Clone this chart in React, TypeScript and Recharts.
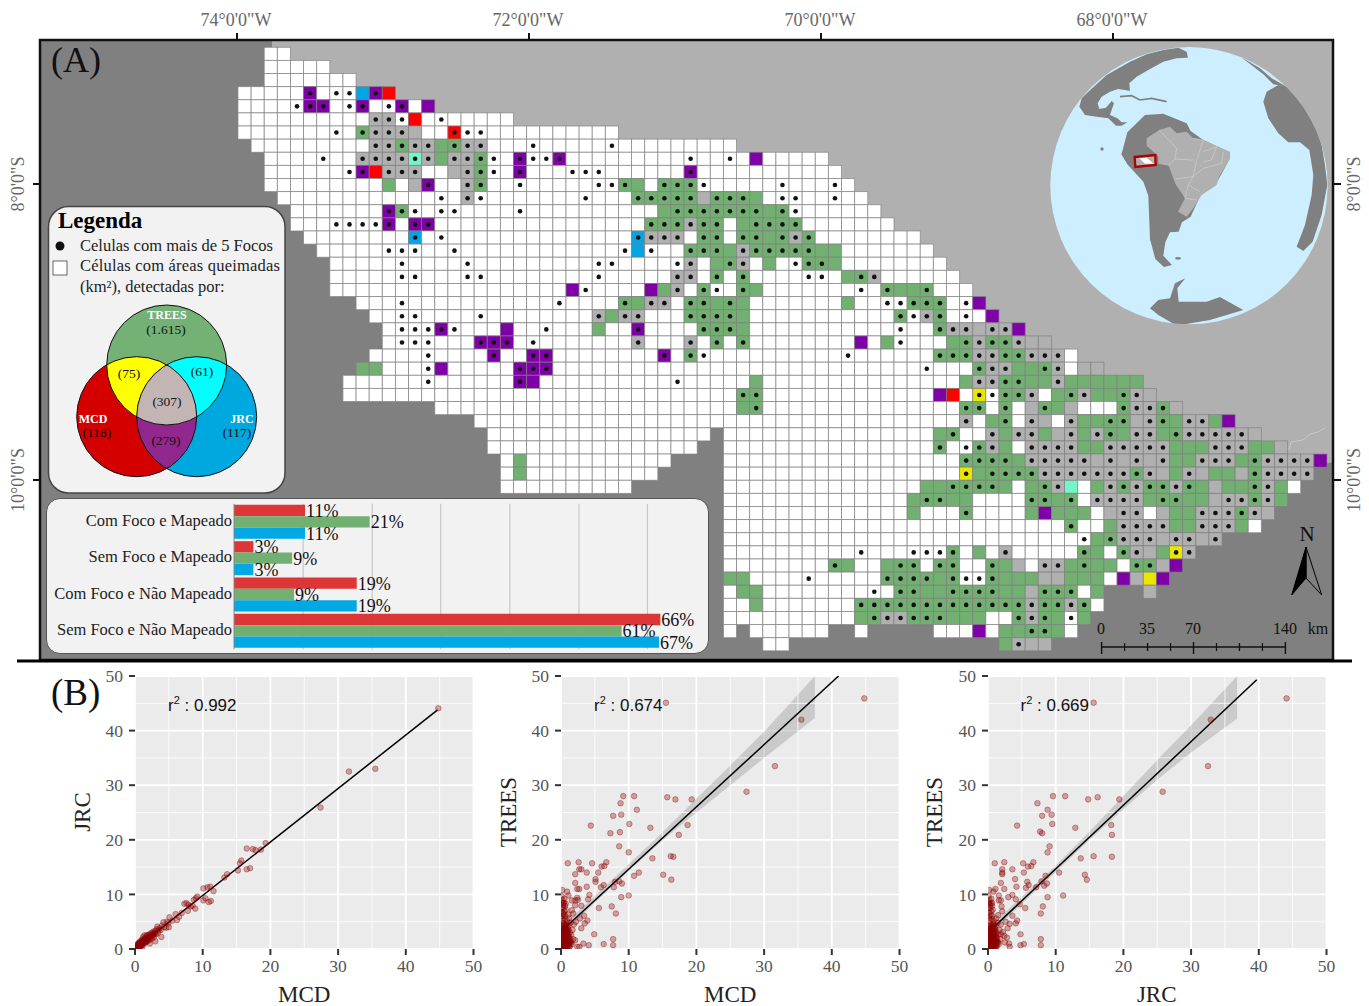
import React from "react";
import {
  Bar, BarChart, CartesianGrid, LabelList, XAxis, YAxis, Scatter, ScatterChart,
  ComposedChart, Line, Area, ReferenceLine,
} from "recharts";

const SERIF = "'Liberation Serif', serif";

// map grid: [first column, run-length cells]
// w white g TREES a all-grey p MCD+JRC r MCD b JRC y MCD+TREES m JRC+TREES, uppercase = more than 5 fire spots, "." no cell
const gridRows: [number, string][] = [
  [2, "w2"],
  [2, "w5"],
  [2, "w7"],
  [0, "w5 P w W2 b P r"],
  [0, "w4 W P2 w W P w W P w p"],
  [0, "w10 A2 W r w W w5"],
  [0, "w7 W w G A3 a w2 R W2 w10"],
  [1, "w9 A2 G A2 g G A2 w3 W w5 W w9"],
  [2, "w4 W w2 A4 M A g A2 G W w P W2 P w9 W w2 W w p w5"],
  [2, "w6 W P r A3 w2 a A G W w P w3 W3 w6 P w11"],
  [2, "w9 g w a P w2 A G w2 W w5 W2 G g w G3 W w5 W w3 W w"],
  [3, "w12 W w A W w7 W w3 G5 a G3 g w W2 w2 W w2"],
  [4, "w7 P G W w W2 w4 W w10 g G7 g G W w6"],
  [4, "w3 W4 P w P2 w16 G3 A G2 w g G4 w7"],
  [5, "w8 B w W w14 B A3 w G2 w G2 g G A G w8"],
  [6, "w5 W3 w2 W w12 W b W w2 G3 g A G5 g2 w7"],
  [7, "w5 W w4 W w9 W2 w4 W A w g G A w g w W G2 g w8"],
  [7, "w5 W2 w3 W2 w8 W w5 A2 w G w G w4 W2 w g G A w6"],
  [7, "w18 p W w4 p g A w G W w G g w7 W w G g2 G w3"],
  [9, "w3 W w11 W w4 G g A2 w G2 g G g w7 g w2 W2 G3 w W p"],
  [10, "w2 W2 w4 W w8 A g A2 w3 G4 g w11 G W A G w W w p"],
  [11, "w W3 P W w3 p w2 W w3 g w2 P w4 G3 g w11 W w2 G A2 a A2 p"],
  [11, "w W3 w3 P3 w W w7 A w3 A w G w G w8 p w g W w3 g G A G2 A a2"],
  [10, "w4 W w4 P w2 P2 w8 P w G W w10 W w6 G3 A2 G2 A3 w"],
  [9, "g2 w3 W p w5 P3 w28 W w3 G A2 g2 G A w a2"],
  [8, "w6 W w6 P p w10 W w5 g w15 g A2 G2 g2 A g6"],
  [8, "w30 G2 w13 p r w Y W G2 A w g G A g2 G A a"],
  [15, "w23 g G w15 G2 w G w a G g a w3 G A2 G a"],
  [18, "w37 A w g G w A a w A g2 G2 a A G g A2 g p"],
  [19, "w17 . w16 g G w2 A g A2 g a A g A G g A2 g G A5 a"],
  [19, "w16 .2 w16 G w W G A g w A4 g2 A5 g3 A3 g2 a"],
  [20, "w g w11 .4 w18 G4 g A5 a A a A a A g2 A3 g G A4 p"],
  [20, "w g w10 .5 w18 Y g G4 A7 G A a g A a g2 a G A4"],
  [20, "w10 .7 w15 g2 G4 g w g G A m w g A G A G2 A G g a g2 G A g w"],
  [37, "w14 g G2 g2 w4 G2 g G w A4 g G2 g2 a A2 G A g"],
  [37, "w14 g w3 G w4 g p g3 w a A2 w a g2 A3 G A a"],
  [37, "w26 G w2 g A4 g2 A3 g w"],
  [37, "w27 W g G A3 a A2 a A"],
  [37, "w10 W w3 W3 G w g w A w5 G g w G A a g Y A"],
  [37, "w8 G g w2 g G2 w G2 w2 G g a w A2 g G g2 w G2 a p"],
  [37, "g2 w4 W w5 G4 g G W2 G g3 a2 g3 w p a y p"],
  [37, "w g2 w8 W w G2 g2 G4 g2 a G3 w g .3 a"],
  [37, "w2 g w7 G13 A G2 A G w"],
  [37, "w10 g G A2 G3 g3 w2 G A G g W g"],
  [37, "w . w6 .2 w .5 w3 p w g2 G2 g w"],
  [40, "w2 .16 g A a2"],
];

const cellColors: Record<string, string> = {
  w: "#ffffff", g: "#72b072", a: "#b0b0b0", p: "#7f00a6", r: "#ff0000",
  b: "#00a6e6", y: "#ebe600", m: "#73f5c8",
};

const barCategories = ["Com Foco e Mapeado", "Sem Foco e Mapeado", "Com Foco e Não Mapeado", "Sem Foco e Não Mapeado"];
const barMcd = [11, 3, 19, 66];
const barTrees = [21, 9, 9.3, 60];
const barJrc = [11, 3, 19, 65.8];
const labelMcd = ["11%", "3%", "19%", "66%"];
const labelTrees = ["21%", "9%", "9%", "61%"];
const labelJrc = ["11%", "3%", "19%", "67%"];
const barGridTicks = [10.7, 21.4, 32, 42.7, 53.4, 64];

const lonLabels = [`74°0'0"W`, `72°0'0"W`, `70°0'0"W`, `68°0'0"W`];
const lonPositions = [237, 529, 821, 1113];
const latLabels = [`8°0'0"S`, `10°0'0"S`];
const latPositions = [184, 480];

const majorTicks = [0, 10, 20, 30, 40, 50];
const minorTicks = [5, 15, 25, 35, 45];

const mcdJrc: number[][] = [
  [44.8, 44.1], [31.6, 32.5], [35.5, 33], [27.4, 25.9], [19.3, 19.4], [16.5, 18.4], [17.4, 18.3], [17.8, 18.1],
  [18.6, 18.2], [15.7, 16.2], [15.5, 15.7], [15.2, 14.4], [16.5, 14.6], [17, 14.8], [13.6, 13.7], [13.2, 13.1],
  [10.1, 11.1], [10.7, 11.3], [11.1, 11.4], [11.6, 10.6], [9.2, 9.6], [8.7, 9], [9, 9.3], [10.1, 8.9], [10.4, 9.3],
  [10.9, 8.6], [11.2, 8.8], [7.3, 8.3], [7.6, 8.4], [7.9, 8.1], [8.2, 7.8], [7.8, 7], [8.9, 7.4], [8.5, 7.9], [6, 6.4],
  [5.1, 5.8], [6.2, 5.3], [6.5, 5.9], [6.9, 6.6], [5, 4], [4.2, 4.9], [4.7, 5], [3.9, 2.2], [3, 1.4], [3.5, 3.4],
  [0.3, 0.4], [0.4, 0.2], [0.5, 0.7], [0.6, 0.4], [0.7, 0.9], [0.8, 0.5], [0.9, 1.1], [1, 0.7], [1.1, 1.5], [1.2, 0.9],
  [1.2, 2.2], [1.3, 1.3], [1.4, 2.5], [1.5, 1.1], [1.6, 1.7], [1.7, 2.4], [1.8, 1.4], [1.9, 2], [2, 2.6], [2.1, 1.6],
  [2.2, 1], [2.3, 2.3], [2.4, 2.9], [2.5, 1.9], [2.6, 2.5], [2.7, 3.2], [2.8, 2.2], [3, 3.3], [3.1, 2.7], [3.2, 3.6],
  [3.4, 3], [3.6, 3.8], [3.8, 3.5], [4, 4.3], [4.3, 4], [0.2, 0.1], [0.1, 0.3], [0.5, 0.2], [0.7, 0.3], [0.9, 0.6],
  [1, 1.3], [1.1, 0.4], [0.4, 0.9], [0.6, 1.2], [0.8, 1.4], [1.3, 1.8], [1.5, 2], [1.8, 2.5], [2.2, 2.7], [2.9, 2.8],
  [4.6, 3.9], [5.5, 5.2], [3.3, 4.1], [4.9, 4.7], [0.2, 0.3], [0.3, 0.2], [0.4, 0.5], [0.5, 0.4], [0.6, 0.7], [0.7, 0.6],
  [0.8, 0.9], [0.9, 0.8], [1, 1], [1.1, 1.1], [1.2, 1.3], [1.3, 1.1], [1.4, 1.5], [1.5, 1.4], [1.6, 1.3], [1.7, 1.8],
  [1.8, 1.9], [1.9, 1.6], [2, 2.1], [2.1, 2.2], [2.3, 2], [2.4, 2.4], [2.6, 2.8], [2.7, 2.6], [2.9, 3], [0.5, 1],
  [0.3, 0.7], [0.7, 1.2], [1, 1.7], [1.2, 1.6],
];

const sharedDense: number[][] = [
  [0.1, 0.3], [0.2, 1], [0.3, 0.2], [0.4, 1.6], [0.5, 0.6], [0.6, 2.3], [0.7, 1.2], [0.8, 0.3], [0.9, 1.9], [1, 0.8],
  [0.2, 2.7], [0.4, 3.2], [0.6, 3], [0.8, 2.6], [1, 3.4], [1.2, 2.2], [1.3, 0.5], [1.4, 1.4], [0.1, 3.8], [0.3, 4.3],
  [0.5, 3.9], [0.7, 4.4], [0.9, 3.9], [1.1, 4.2], [1.3, 3], [1.5, 2.6], [1.6, 0.9], [1.8, 1.8], [0.2, 1.8], [0.5, 1.3],
  [0.8, 1.1], [1.1, 1.7], [0.3, 5.2], [0.6, 5.5], [0.9, 5.1], [0.2, 6], [0.5, 6.9], [0.1, 7.4], [0.7, 7.2], [0.3, 8],
  [0.6, 7.9], [0.2, 9], [0.1, 9.7], [0.5, 9.2], [1.2, 5.6], [1.4, 4.8], [1.7, 3.5], [1.9, 4.5], [0.4, 0.7], [0.7, 0.1],
  [1.2, 1], [0.1, 2], [0.3, 2.4], [0.6, 0.9], [0.1, 0.1], [0.2, 0.4], [0.3, 0.7], [0.4, 0.2], [0.5, 0.1], [0.6, 0.3],
  [0.7, 0.6], [0.8, 0.8], [0.9, 0.4], [1, 0.2], [1.1, 0.7], [1.2, 0.3], [1.3, 1.2], [0.1, 1.2], [0.2, 1.5], [0.3, 1.1],
  [0.4, 1.3], [0.5, 1.9], [0.6, 1.5], [0.7, 1.8], [0.8, 1.6], [0.9, 1.4], [1, 1.2], [1.1, 1.1], [1.2, 1.5], [0.1, 2.5],
  [0.2, 2.2], [0.3, 2.9], [0.4, 2.5], [0.5, 2.2], [0.6, 2.7], [0.7, 2.1], [0.8, 2.3], [0.9, 2.8], [1, 2.4], [1.1, 2.7],
  [0.1, 3.2], [0.2, 3.5], [0.3, 3.3], [0.4, 3.7], [0.5, 3.4], [0.6, 3.6], [0.7, 3.2], [0.8, 3.6], [0.9, 3.2], [1.1, 3.6],
  [0.2, 4.1], [0.4, 4.5], [0.6, 4.2], [0.8, 4.6], [0.2, 5.6], [0.4, 6.3], [0.6, 6.1], [0.1, 6.8], [0.3, 7.5], [0.1, 8.5],
  [0.4, 8.4], [0.2, 0.6], [0.5, 0.9], [0.9, 1], [1.3, 1.9], [1.5, 1.2],
];

const mcdTrees: number[][] = [
  [44.8, 45.9], [15.5, 45.1], [35.5, 42], [31.6, 33.5], [27.4, 28.8], [9.2, 28], [10.8, 28], [15.7, 27.8], [16.9, 27.4],
  [19.3, 27.4], [8.8, 26.7], [11.2, 25.5], [8.9, 24.6], [7.7, 24.4], [10.1, 22.9], [4.4, 22.6], [18.7, 22.7], [13.2, 22.2],
  [17.4, 20.9], [7.3, 21.2], [8.7, 21.4], [8.6, 18.8], [10, 17.7], [13.5, 16.6], [16.2, 17], [16.6, 16.9], [1, 15.7],
  [2.6, 15.9], [4.6, 15.7], [6.7, 15.9], [6, 15.1], [6.4, 15.2], [2.7, 14.6], [3, 14.6], [3.8, 14], [5.5, 14], [2.1, 13.7],
  [11.5, 14], [10.8, 13.4], [15.1, 13.6], [16.3, 12.7], [5.1, 12.8], [5.1, 12.3], [2.1, 12.1], [8, 12.3], [8.6, 12.4],
  [9, 12], [6.3, 11.7], [5.9, 11.3], [7.8, 11.3], [3.8, 11.4], [2.4, 11], [2.7, 11], [0.2, 10.8], [0.9, 10.5], [4.2, 9.9],
  [10, 9.8], [8.9, 9.5], [1.1, 9.8], [2.4, 9.4], [4, 9.1], [1.6, 8.9], [2.1, 8.9], [2.5, 9], [0.4, 8.5], [0.7, 8.3],
  [2.1, 8], [7.5, 7.8], [5.6, 7.5], [8.1, 6.5], [3, 7.9], [1.6, 7.1], [0.3, 6.5], [1.1, 6.3], [1.8, 6.5], [3.4, 6.1],
  [2.8, 5.6], [3.9, 5.2], [3.5, 4.7], [2.2, 5], [0.4, 4.7], [3, 3.8], [4.9, 2.7], [2.1, 1.6], [7.7, 1.8], [6.3, 0.9],
  [7.7, 0.7], [4.1, 0.7], [3.3, 1], [2.7, 0.4], [2.4, 0.4],
  ...sharedDense,
];

const jrcTrees: number[][] = [
  [44.1, 45.9], [15.6, 45.1], [32.9, 42], [32.5, 33.5], [25.8, 28.8], [9.6, 28], [11.4, 28], [14.8, 27.4], [16.2, 27.8],
  [19.4, 27.4], [7.3, 26.7], [8.8, 25.5], [9.4, 24.6], [8, 24.4], [9.5, 22.9], [4.3, 22.6], [18.2, 22.7], [12.9, 22.2],
  [18.3, 20.9], [7.7, 21.5], [8, 21.2], [9.1, 18.8], [8.8, 17.7], [13.7, 16.6], [15.6, 17], [18.3, 16.9], [1, 15.7],
  [2.4, 15.9], [5.2, 15.7], [6.7, 15.9], [5.9, 15.1], [6.4, 15.2], [2.1, 14.6], [3.6, 14.6], [5.3, 14], [2.1, 14], [2.1, 13.7],
  [10.5, 14], [14.3, 13.6], [14.6, 12.7], [8.5, 13.4], [4, 12.8], [5.8, 12.3], [1.9, 12.1], [7.9, 12.4], [8.7, 12], [8.3, 11.6],
  [6, 11.7], [7.1, 11.3], [5.6, 11.2], [4.2, 11.4], [1.1, 11], [2.4, 11], [0.2, 10.8], [0.8, 10.5], [3.6, 9.9], [11.1, 9.8],
  [8.8, 9.5], [1.6, 9.8], [3, 9.5], [4.1, 9.1], [1.6, 8.9], [1.9, 8.9], [0.15, 8.5], [0.6, 8.4], [4.7, 8.2], [8.1, 7.8],
  [5.5, 7.5], [7.8, 6.5], [2.1, 6.9], [3.6, 6.1], [4.3, 5.2], [4.1, 4.7], [2.9, 3.8], [4.8, 2.7], [7.8, 1.8], [7.8, 0.7],
  [5.3, 0.9], [4.8, 0.7], [3.1, 1], [3.2, 0.4], [2.6, 5], [2, 7.8], [3.2, 4.6], [2.4, 2.4], [1.5, 6.2],
  [2.2, 3.1], [2.5, 1.2], [1.9, 2.7], [2.8, 2.1],
  ...sharedDense,
];

const fitMcdJrc = [{ x: 0, y: 0 }, { x: 44.7, y: 43.8 }];
const fitMcdTrees = [{ x: 0, y: 3.2 }, { x: 41, y: 50 }];
const fitJrcTrees = [{ x: 0, y: 3 }, { x: 39.7, y: 49.3 }];

const ribbonMcdTrees = [
  { x: 0, band: [2.4, 4] }, { x: 5, band: [8.5, 9.8] }, { x: 10, band: [14.3, 15.5] }, { x: 15, band: [19.9, 21.4] },
  { x: 20, band: [25, 27.5] }, { x: 25, band: [30, 33.6] }, { x: 30, band: [35, 39.8] }, { x: 37.5, band: [42.3, 50] },
];
const ribbonJrcTrees = [
  { x: 0, band: [2.2, 3.8] }, { x: 5, band: [8.3, 9.6] }, { x: 10, band: [14.1, 15.3] }, { x: 15, band: [20, 21.5] },
  { x: 20, band: [25.6, 28] }, { x: 25, band: [31, 34.6] }, { x: 30, band: [36, 41] }, { x: 36.8, band: [42.2, 50] },
];

// world map outlines in a 930x900 box
const northAmerica = "M155 190 L175 170 L230 120 L300 80 L350 58 L400 45 L445 38 L470 50 L474 68 L440 70 L400 80 L355 105 L320 125 L298 145 L300 168 L285 165 L265 162 L240 170 L215 185 L203 205 L208 222 L228 218 L245 198 L252 205 L245 225 L240 240 L262 250 L275 262 L292 262 L275 272 L258 272 L235 250 L200 245 L165 240 L155 225 L148 215 Z";
const southAmerica = "M278 345 L292 292 L345 240 L400 236 L470 265 L482 288 L520 315 L600 352 L592 385 L562 440 L512 480 L482 545 L456 562 L446 590 L420 592 L406 622 L400 662 L426 690 L402 696 L376 672 L360 612 L355 482 L340 440 L292 388 L274 358 Z";
const brazil = "M350 310 L388 285 L420 275 L440 295 L470 290 L490 310 L520 316 L600 350 L600 372 L570 420 L560 450 L515 480 L490 520 L470 545 L444 530 L465 490 L436 446 L416 392 L385 386 L385 364 L350 332 Z";
const brazilStates = "M388 285 L440 340 L435 372 L490 375 M490 310 L520 316 L500 375 L490 425 L436 432 M435 372 L416 392 M520 350 L560 335 L545 375 L520 380 M580 350 L575 385 L520 400 L490 425 M490 425 L475 450 L510 470 M475 450 L465 490 L500 495";
const africa = "M700 200 L710 170 L745 150 L775 155 L830 225 L870 300 L885 390 L892 450 L875 540 L848 620 L820 648 L800 635 L825 570 L845 480 L850 420 L838 345 L810 322 L775 322 L745 295 L715 250 Z";
const iberia = "M632 65 L690 100 L725 130 L770 155 L730 148 L700 118 Z";
const antarctica = "M360 820 L385 795 L420 790 L435 745 L466 730 L442 760 L446 800 L530 800 L570 786 L640 825 L540 855 L440 872 L385 840 Z";
const cuba = "M270 185 L305 182 L330 195 L365 190 L410 200";

const vennCircles = [
  { key: "trees", cx: 166.7, cy: 365, fill: "#74b174" },
  { key: "mcd", cx: 136.7, cy: 416.7, fill: "#d40000" },
  { key: "jrc", cx: 196.7, cy: 416.7, fill: "#00a8e0" },
];
const vennCounts = [
  { text: "(1.615)", x: 166, y: 334 }, { text: "(75)", x: 129, y: 378 }, { text: "(61)", x: 202, y: 376 },
  { text: "(307)", x: 167, y: 406 }, { text: "(118)", x: 97, y: 437 }, { text: "(279)", x: 166, y: 445 },
  { text: "(117)", x: 237, y: 437 },
];
const vennNames = [
  { text: "TREES", x: 167, y: 319 }, { text: "MCD", x: 93, y: 423 }, { text: "JRC", x: 242, y: 423 },
];

const scaleLabels = [
  { text: "0", x: 1101 }, { text: "35", x: 1147 }, { text: "70", x: 1193 }, { text: "140", x: 1285 }, { text: "km", x: 1318 },
];
const scaleTicks = [0, 35, 70, 105, 140];
const scaleMinor = [17.5, 52.5, 87.5, 122.5];

const CELL = 13.12;

function parseRow(start: number, spec: string, row: number) {
  const out: { c: number; r: number; code: string }[] = [];
  let col = start;
  spec.split(" ").forEach((tok) => {
    const code = tok[0];
    const n = tok.length > 1 ? parseInt(tok.slice(1), 10) : 1;
    for (let i = 0; i < n; i++) {
      if (code !== ".") out.push({ c: col + 0.5, r: row + 0.5, code });
      col++;
    }
  });
  return out;
}

const cells = gridRows.flatMap(([start, spec], i) => parseRow(start, spec, i));
const fireCells = cells.filter((d) => d.code !== d.code.toLowerCase());

const barData = barCategories.map((name, i) => ({
  name,
  mcd: barMcd[i], trees: barTrees[i], jrc: barJrc[i],
  mcdLabel: labelMcd[i], treesLabel: labelTrees[i], jrcLabel: labelJrc[i],
}));

function CellShape(props: any) {
  const { cx, cy, payload } = props;
  return (
    <rect
      x={cx - CELL / 2} y={cy - CELL / 2} width={CELL} height={CELL}
      fill={cellColors[payload.code.toLowerCase()]} stroke="#808080" strokeOpacity={0.75} strokeWidth={0.9}
    />
  );
}

function FireDot(props: any) {
  return <circle cx={props.cx} cy={props.cy} r={2.3} fill="#111" />;
}

function GridMap() {
  return (
    <ScatterChart width={1293} height={620} margin={{ top: 0, right: 0, bottom: 0, left: 0 }} style={{ position: "absolute", left: 40, top: 40 }}>
      <XAxis type="number" dataKey="c" hide domain={[-15.09, 83.46]} allowDataOverflow />
      <YAxis type="number" dataKey="r" hide domain={[-0.556, 46.7]} reversed allowDataOverflow />
      <Scatter data={cells} shape={CellShape} isAnimationActive={false} />
      <Scatter data={fireCells} shape={FireDot} isAnimationActive={false} />
    </ScatterChart>
  );
}

function Globe() {
  return (
    <g transform="translate(1030 35) scale(0.3333)">
      <defs>
        <clipPath id="globeClip"><circle cx={477} cy={452} r={416} /></clipPath>
      </defs>
      <circle cx={477} cy={452} r={416} fill="#cdeeff" />
      <g clipPath="url(#globeClip)">
        <path d={northAmerica} fill="#808080" />
        <path d={cuba} fill="none" stroke="#808080" strokeWidth={5} />
        <path d={southAmerica} fill="#808080" />
        <path d={brazil} fill="#b0b0b0" />
        <path d={brazilStates} fill="none" stroke="#d0d0d0" strokeWidth={2} />
        <path d={africa} fill="#808080" />
        <path d={iberia} fill="#808080" />
        <path d={antarctica} fill="#808080" />
        <circle cx={216} cy={342} r={5} fill="#808080" />
        <ellipse cx={444} cy={670} rx={9} ry={4} fill="#808080" />
        <path d="M314 366 L376 360 L377 390 L316 396 Z" fill="#b0b0b0" stroke="#b00000" strokeWidth={7} />
        <path d="M328 370 L350 368 L372 386 L345 386 Z" fill="#fff" />
      </g>
    </g>
  );
}

function MapBackground() {
  return (
    <svg width={1369} height={670} style={{ position: "absolute", left: 0, top: 0 }}>
      <rect x={40} y={40} width={1293} height={620} fill="#808080" />
      <polygon points="272,40 1333,40 1333,462 1300,470 1100,400 272,110" fill="#b0b0b0" />
      <polyline points="1289,450 1291,442 1303,440 1310,434 1318,432 1325,428" fill="none" stroke="#c8c8c8" strokeWidth={1} />
      <Globe />
    </svg>
  );
}

function MapFrame() {
  return (
    <svg width={1369} height={670} style={{ position: "absolute", left: 0, top: 0 }} fontFamily={SERIF}>
      <rect x={40} y={40} width={1293} height={620} fill="none" stroke="#111" strokeWidth={2.5} />
      <rect x={17} y={659.5} width={1335} height={3} fill="#000" />
      {lonPositions.map((x, i) => (
        <g key={x}>
          <line x1={x} x2={x} y1={33} y2={40} stroke="#111" strokeWidth={2} />
          <text x={x - 1} y={26} textAnchor="middle" fontSize={18} fill="#666">{lonLabels[i]}</text>
        </g>
      ))}
      {latPositions.map((y, i) => (
        <g key={y}>
          <line x1={33} x2={40} y1={y} y2={y} stroke="#111" strokeWidth={2} />
          <line x1={1333} x2={1341} y1={y} y2={y} stroke="#111" strokeWidth={2} />
          <text transform={`translate(24 ${y}) rotate(-90)`} textAnchor="middle" fontSize={18} fill="#666">{latLabels[i]}</text>
          <text transform={`translate(1360 ${y}) rotate(-90)`} textAnchor="middle" fontSize={18} fill="#666">{latLabels[i]}</text>
        </g>
      ))}
      <text x={51} y={72} fontSize={36} fill="#111">(A)</text>
      <text x={1307} y={541} textAnchor="middle" fontSize={21} fill="#111">N</text>
      <path d="M1306 547 L1291.7 595 L1306 578 Z" fill="#000" stroke="#000" />
      <path d="M1306 547 L1321.7 595 L1306 578 Z" fill="none" stroke="#000" />
      {scaleLabels.map((d) => (
        <text key={d.text} x={d.x} y={634} textAnchor="middle" fontSize={16} fill="#111">{d.text}</text>
      ))}
      <line x1={1101.6} x2={1285.4} y1={647} y2={647} stroke="#111" strokeWidth={1.6} />
      {scaleTicks.map((k) => (
        <line key={k} x1={1101.6 + k * 1.313} x2={1101.6 + k * 1.313} y1={k % 70 === 0 ? 642 : 643} y2={k % 70 === 0 ? 654 : 651} stroke="#111" strokeWidth={1.4} />
      ))}
      {scaleMinor.map((k) => (
        <line key={k} x1={1101.6 + k * 1.313} x2={1101.6 + k * 1.313} y1={643} y2={651} stroke="#111" strokeWidth={1.2} />
      ))}
    </svg>
  );
}

function LegendBox() {
  return (
    <svg width={300} height={500} style={{ position: "absolute", left: 0, top: 0 }} fontFamily={SERIF}>
      <defs>
        <clipPath id="vT"><circle cx={166.7} cy={365} r={60} /></clipPath>
        <clipPath id="vM"><circle cx={136.7} cy={416.7} r={60} /></clipPath>
        <clipPath id="vJ"><circle cx={196.7} cy={416.7} r={60} /></clipPath>
      </defs>
      <rect x={48.5} y={206.5} width={236.5} height={286.5} rx={20} fill="#f2f2f2" stroke="#444" strokeWidth={1.5} />
      <text x={58} y={228} fontSize={23} fontWeight={700} fill="#000">Legenda</text>
      <circle cx={60} cy={246} r={4.5} fill="#111" />
      <text x={80} y={251} fontSize={16.5} fill="#222">Celulas com mais de 5 Focos</text>
      <rect x={53} y={261} width={14} height={14} fill="#fff" stroke="#666" />
      <text x={80} y={271} fontSize={16.5} fill="#222" textLength={200}>Células com áreas queimadas</text>
      <text x={80} y={292} fontSize={16.5} fill="#222">(km²), detectadas por:</text>
      {vennCircles.map((c) => (
        <circle key={c.key} cx={c.cx} cy={c.cy} r={60} fill={c.fill} />
      ))}
      <g clipPath="url(#vT)"><circle cx={136.7} cy={416.7} r={60} fill="#ffff00" /></g>
      <g clipPath="url(#vT)"><circle cx={196.7} cy={416.7} r={60} fill="#00ffff" /></g>
      <g clipPath="url(#vM)"><circle cx={196.7} cy={416.7} r={60} fill="#92278f" /></g>
      <g clipPath="url(#vM)"><g clipPath="url(#vJ)"><circle cx={166.7} cy={365} r={60} fill="#c4b5b5" /></g></g>
      {vennCircles.map((c) => (
        <circle key={c.key + "o"} cx={c.cx} cy={c.cy} r={60} fill="none" stroke="#111" strokeWidth={1} />
      ))}
      {vennCounts.map((d) => (
        <text key={d.text} x={d.x} y={d.y} textAnchor="middle" fontSize={13.5} fill="#111">{d.text}</text>
      ))}
      {vennNames.map((d) => (
        <text key={d.text} x={d.x} y={d.y} textAnchor="middle" fontSize={12} fontWeight={700} fill="#fff">{d.text}</text>
      ))}
    </svg>
  );
}

function BarPanel() {
  const labelStyle = { fontFamily: SERIF, fontSize: 18, fill: "#111" };
  return (
    <div style={{ position: "absolute", left: 46, top: 498, width: 663, height: 156, background: "#f2f2f2", border: "1px solid #555", borderRadius: 14, boxSizing: "border-box" }}>
      <BarChart
        width={661} height={154} data={barData} layout="vertical" barGap={0} barSize={11.33}
        margin={{ top: 4.85, right: 21.8, bottom: 3.8, left: 0 }}
        style={{ position: "absolute", left: 0, top: 0 }}
      >
        <CartesianGrid horizontal={false} stroke="#c8c8c8" strokeWidth={1.2} verticalValues={barGridTicks} />
        <XAxis type="number" domain={[0, 70]} ticks={barGridTicks} hide />
        <YAxis
          type="category" dataKey="name" width={187} tickLine={false} axisLine={{ stroke: "#888" }} interval={0}
          tick={{ fontFamily: SERIF, fontSize: 16.5, fill: "#222", dy: -2 }} tickSize={0} tickMargin={2}
        />
        <Bar dataKey="mcd" fill="#db2f2f" fillOpacity={0.97} isAnimationActive={false}>
          <LabelList dataKey="mcdLabel" position="right" offset={1} style={labelStyle} />
        </Bar>
        <Bar dataKey="trees" fill="#72b072" isAnimationActive={false}>
          <LabelList dataKey="treesLabel" position="right" offset={1} style={labelStyle} />
        </Bar>
        <Bar dataKey="jrc" fill="#00a8e4" isAnimationActive={false}>
          <LabelList dataKey="jrcLabel" position="right" offset={1} style={labelStyle} />
        </Bar>
      </BarChart>
    </div>
  );
}

function PointMark(props: any) {
  return <circle cx={props.cx} cy={props.cy} r={2.8} fill="#8b0000" fillOpacity={0.32} stroke="#8b0000" strokeOpacity={0.36} strokeWidth={1} />;
}

function ScatterPanel({ left, points, fit, ribbon, xName, yName, r2, titleX }: any) {
  const pts = points.map((p: number[]) => ({ x: p[0], y: p[1] }));
  return (
    <>
      <ComposedChart
        width={428.5} height={346} margin={{ top: 16, right: 20, bottom: 27, left: 20 }}
        style={{ position: "absolute", left, top: 660 }}
      >
        <CartesianGrid fill="#ebebeb" stroke="#fff" strokeWidth={1.8} horizontalValues={majorTicks} verticalValues={majorTicks} />
        {minorTicks.map((t) => (
          <ReferenceLine key={"v" + t} x={t} stroke="#fff" strokeWidth={0.8} />
        ))}
        {minorTicks.map((t) => (
          <ReferenceLine key={"h" + t} y={t} stroke="#fff" strokeWidth={0.8} />
        ))}
        <XAxis
          type="number" dataKey="x" domain={[0, 50]} ticks={majorTicks} allowDataOverflow height={30}
          axisLine={false} tickLine={{ stroke: "#333", strokeWidth: 2 }} tickSize={6} tickMargin={5}
          tick={{ fontFamily: SERIF, fontSize: 17.5, fill: "#555" }}
        />
        <YAxis
          type="number" dataKey="y" domain={[0, 50]} ticks={majorTicks} allowDataOverflow width={50}
          axisLine={false} tickLine={{ stroke: "#333", strokeWidth: 2 }} tickSize={6} tickMargin={6}
          tick={{ fontFamily: SERIF, fontSize: 17.5, fill: "#555" }}
        />
        {ribbon && <Area data={ribbon} dataKey="band" stroke="none" fill="#999" fillOpacity={0.4} isAnimationActive={false} dot={false} activeDot={false} />}
        <Scatter data={pts} shape={PointMark} isAnimationActive={false} />
        <Line data={fit} dataKey="y" stroke="#000" strokeWidth={1.5} dot={false} activeDot={false} isAnimationActive={false} />
      </ComposedChart>
      <div style={{ position: "absolute", left: left + 70, top: 949 + 33, width: 338.5, textAlign: "center", fontFamily: SERIF, fontSize: 23, color: "#222" }}>{xName}</div>
      <div style={{ position: "absolute", left: titleX - 60, top: 799, width: 120, textAlign: "center", fontFamily: SERIF, fontSize: 23, color: "#222", transform: "rotate(-90deg)" }}>{yName}</div>
      <div style={{ position: "absolute", left: left + 103, top: 696, fontFamily: "'Liberation Sans', sans-serif", fontSize: 17, color: "#111", whiteSpace: "nowrap" }}>
        r<sup style={{ fontSize: 11, lineHeight: 0 }}>2</sup> : {r2}
      </div>
    </>
  );
}

export default function App() {
  return (
    <div style={{ position: "absolute", left: 0, top: 0, width: 1369, height: 1006, background: "#fff", overflow: "hidden" }}>
      <MapBackground />
      <GridMap />
      <MapFrame />
      <LegendBox />
      <BarPanel />
      <div style={{ position: "absolute", left: 51, top: 671, fontFamily: SERIF, fontSize: 37, color: "#111" }}>(B)</div>
      <ScatterPanel left={65} points={mcdJrc} fit={fitMcdJrc} xName="MCD" yName="JRC" r2="0.992" titleX={83} />
      <ScatterPanel left={491} points={mcdTrees} fit={fitMcdTrees} ribbon={ribbonMcdTrees} xName="MCD" yName="TREES" r2="0.674" titleX={509} />
      <ScatterPanel left={917.5} points={jrcTrees} fit={fitJrcTrees} ribbon={ribbonJrcTrees} xName="JRC" yName="TREES" r2="0.669" titleX={935} />
    </div>
  );
}
